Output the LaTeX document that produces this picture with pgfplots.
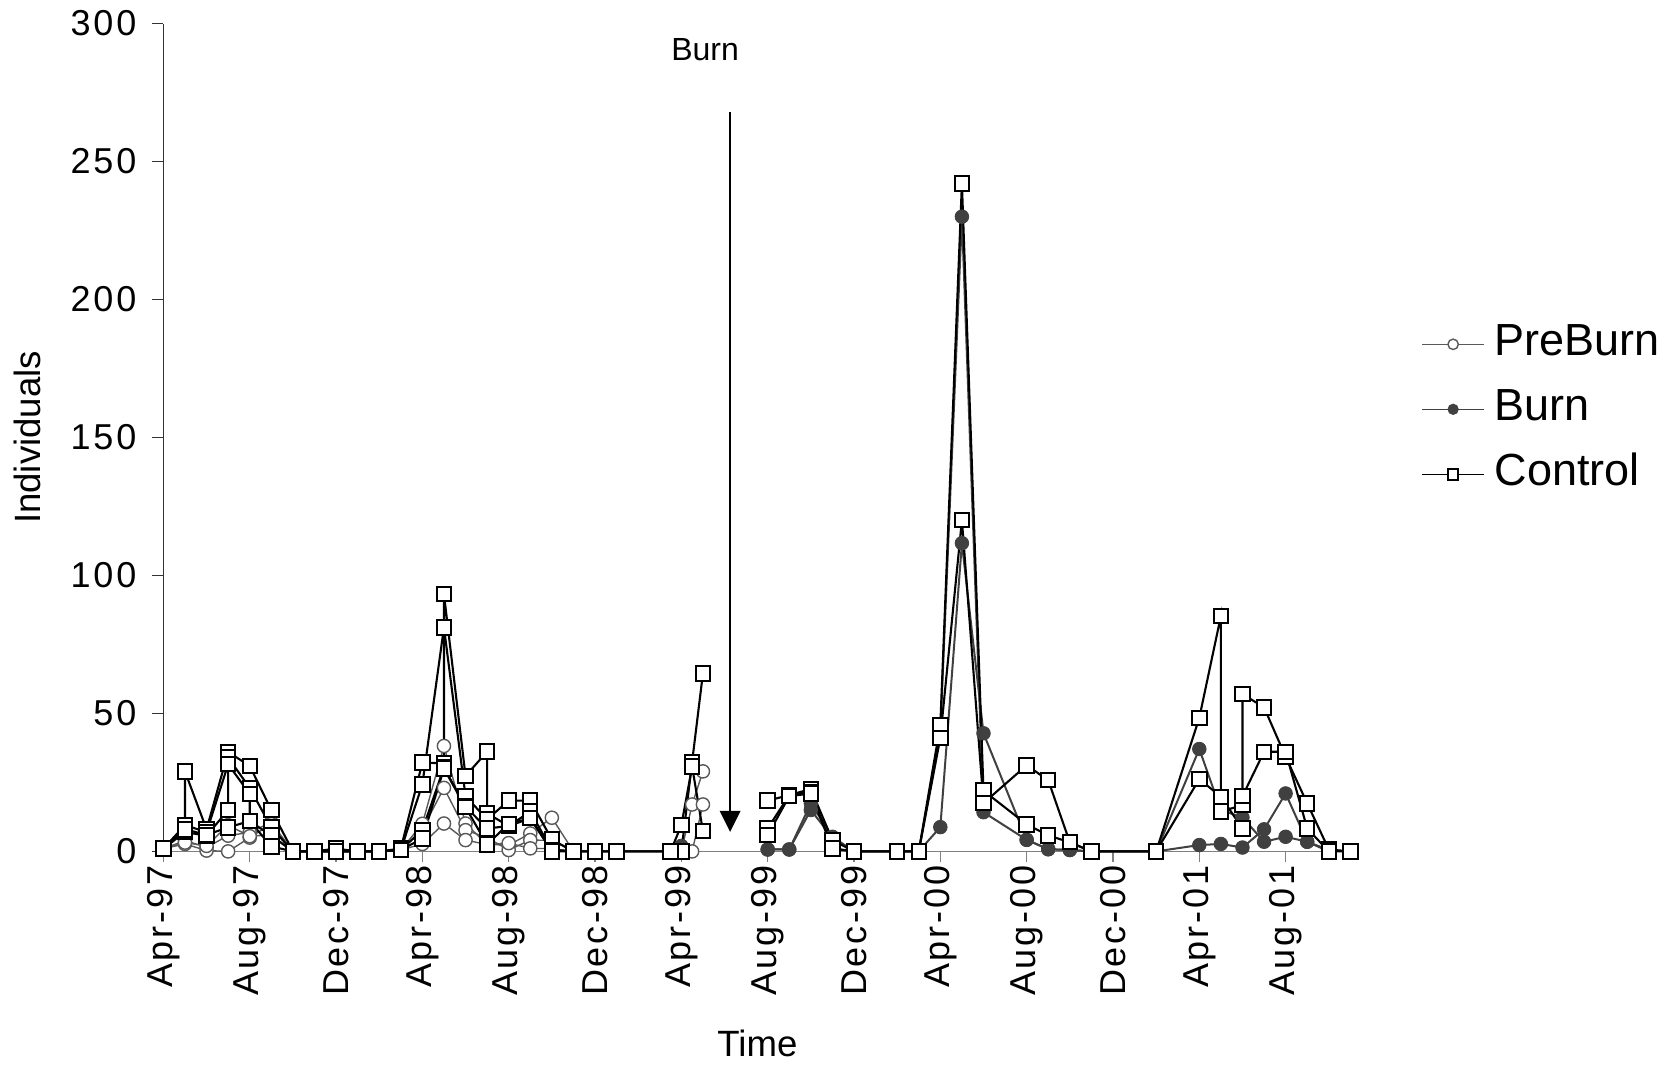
\documentclass[border=0pt]{standalone}
\usepackage{fontspec}
\setmainfont{Liberation Sans}
\newfontfamily\tickfont[LetterSpace=8]{Liberation Sans}
\usepackage{pgfplots}
\pgfplotsset{compat=1.18}
\usetikzlibrary{arrows.meta}

\definecolor{precol}{gray}{0.35}
\definecolor{burncol}{gray}{0.25}

\pgfplotsset{
  preburn/.style={color=precol, line width=0.7pt, mark=*, mark size=3.3pt,
    mark options={fill=white, draw=precol, line width=0.7pt}},
  burn/.style={color=burncol, line width=1pt, mark=*, mark size=3.4pt,
    mark options={fill=burncol, draw=burncol, line width=0.4pt}},
  control/.style={color=black, line width=1.05pt, mark=square*, mark size=3.6pt,
    mark options={fill=white, draw=black, line width=1pt}},
}

\begin{document}
\begin{tikzpicture}
\begin{axis}[
  scale only axis,
  width=597.8pt, height=413.95pt,
  xmin=0, xmax=55.4, ymin=0, ymax=300,
  clip=false,
  unbounded coords=jump,
  axis x line*=bottom, axis y line*=left,
  x axis line style={gray, line width=0.8pt},
  y axis line style={black!80, line width=0.6pt},
  xtick={0,4,...,52},
  xticklabels={Apr-97,Aug-97,Dec-97,Apr-98,Aug-98,Dec-98,Apr-99,Aug-99,Dec-99,Apr-00,Aug-00,Dec-00,Apr-01,Aug-01},
  ytick={0,50,...,300},
  tick align=outside,
  major tick length=5.5pt,
  xtick style={gray, line width=0.6pt},
  ytick style={black!80, line width=0.6pt},
  /pgf/number format/assume math mode=true,
  tick label style={font=\tickfont\fontsize{18}{18}\selectfont},
  xticklabel style={rotate=90, anchor=east},
  xticklabel shift=-2pt,
  yticklabel shift=4.5pt,
  xlabel={Time}, ylabel={Individuals},
  label style={font=\fontsize{18.3}{20}\selectfont},
  xlabel style={at={(axis description cs:0.4968,-0.2323)}, anchor=center},
  ylabel style={at={(axis description cs:-0.1134,0.5)}, anchor=center},
  legend style={at={(axis description cs:1.0519,0.534)}, anchor=west,
    draw=none, fill=none, inner sep=0pt,
    font=\fontsize{22.5}{27}\selectfont,
    nodes={inner sep=0pt, text height=16pt, text depth=4.5pt},
    row sep=12pt, column sep=5pt},
  legend cell align=left,
  legend image code/.code={%
    \draw[mark repeat=2, mark phase=2, #1, line width=0.7pt, mark size=2.6pt]
      plot coordinates {(0pt,0pt) (15.5pt,0pt) (31pt,0pt)};},
]
% PreBurn
\addplot[preburn] table[row sep=\\] {
x y \\ 0 1 \\ 1 3.9 \\ 2 1.5 \\ 3 5.7 \\ 4 6.9 \\ 5 10.5 \\ 6 0 \\ 7 0 \\ 8 0 \\ 9 0 \\ 10 0 \\
11 0.5 \\ 12 10 \\ 13 38.2 \\ 14 10.1 \\ 15 2.5 \\ 16 2.3 \\ 17 6.5 \\ 18 12.2 \\ 19 0 \\
20 0 \\ 21 0 \\ 23.5 0 \\ 24 0 \\ 24.5 17 \\ 25 29 \\
};
\addlegendentry{PreBurn}
\addplot[preburn, forget plot] table[row sep=\\] {
x y \\ 0 1 \\ 1 2.7 \\ 2 0.3 \\ 3 0 \\ 4 5 \\ 5 9.9 \\ 6 0 \\ 7 0 \\ 8 0 \\ 9 0 \\ 10 0 \\
11 0.5 \\ 12 8 \\ 13 23 \\ 14 7.7 \\ 15 5 \\ 16 0.5 \\ 17 4.1 \\ 18 4 \\ 19 0 \\
20 0 \\ 21 0 \\ 23.5 0 \\ 24 0 \\ 24.5 0 \\ 25 17 \\
};
\addplot[preburn, forget plot] table[row sep=\\] {
x y \\ 0 1 \\ 1 3.2 \\ 2 2 \\ 3 9.5 \\ 4 5.5 \\ 5 6 \\ 6 0 \\ 7 0 \\ 8 0 \\ 9 0 \\ 10 0 \\
11 0.5 \\ 12 2.7 \\ 13 10.1 \\ 14 4.1 \\ 15 2.5 \\ 16 3 \\ 17 1.1 \\ 18 1 \\ 19 0 \\
20 0 \\ 21 0 \\ 23.5 0 \\ 24 0 \\
};
% Burn
\addplot[burn] table[row sep=\\] {
x y \\ 23.5 0 \\ 24 2 \\ 24.5 nan \\
28 0.7 \\ 29 0.7 \\ 30 17.4 \\ 31 5.3 \\ 32 0 \\ 34 0 \\ 35 0 \\ 36 43 \\ 37 230 \\
38 14.2 \\ 40 4.2 \\ 41 0.8 \\ 42 0.5 \\ 43 0 \\ 46 0 \\ 48 37.1 \\ 49 15 \\ 50 12.3 \\
51 3.5 \\ 52 5.3 \\ 53 3.5 \\ 54 0 \\
};
\addlegendentry{Burn}
\addplot[burn, forget plot] table[row sep=\\] {
x y \\ 28 0.7 \\ 29 0.7 \\ 30 15 \\ 31 5 \\ 32 0 \\ 34 0 \\ 35 0 \\ 36 8.8 \\ 37 111.7 \\
38 42.8 \\ 40 4.2 \\ 41 0.8 \\ 42 0.5 \\ 43 0 \\ 46 0 \\ 48 2.3 \\ 49 2.7 \\ 50 1.4 \\
51 8 \\ 52 21 \\ 53 3.5 \\ 54 0.5 \\
};
% Control
\addplot[control] table[row sep=\\] {
x y \\ 0 1 \\ 1 9 \\ 1 29 \\ 2 8 \\ 3 36 \\ 4 31 \\ 5 15 \\ 6 0 \\ 7 0 \\ 8 1 \\ 9 0 \\ 10 0 \\
11 1 \\ 12 32.2 \\ 13 31.9 \\ 13 93.2 \\ 14 27.3 \\ 15 36.2 \\ 15 13.8 \\ 16 9.2 \\ 17 12 \\
18 0.5 \\ 19 0 \\ 20 0 \\ 21 0 \\ 23.5 0 \\ 24 0 \\ 24.5 32.5 \\ 25 64.5 \\ 26 nan \\
28 18.4 \\ 29 20.4 \\ 30 22.6 \\ 31 4.1 \\ 32 0 \\ 34 0 \\ 35 0 \\ 36 45.8 \\ 37 242 \\
38 22 \\ 40 9.8 \\ 41 5.8 \\ 42 3.3 \\ 43 0 \\ 46 0 \\ 48 48.4 \\ 49 85.3 \\ 49 14.4 \\
50 16.8 \\ 50 57 \\ 51 52.2 \\ 52 34.3 \\ 53 17.4 \\ 54 0.7 \\ 55 0 \\
};
\addlegendentry{Control}
\addplot[control, forget plot] table[row sep=\\] {
x y \\ 0 1 \\ 1 7 \\ 2 5.7 \\ 3 15 \\ 3 34 \\ 4 23 \\ 5 8.7 \\ 6 0 \\ 7 0 \\ 8 0 \\ 9 0 \\ 10 0 \\
11 0.5 \\ 12 24.3 \\ 13 81.2 \\ 14 20 \\ 15 11.6 \\ 16 18.4 \\ 17 18.4 \\ 18 4.3 \\ 19 0 \\
20 0 \\ 21 0 \\ 23.5 0 \\ 24 9.5 \\ 24.5 30.7 \\ 25 7.4 \\ 26 nan \\
28 8.3 \\ 29 20.4 \\ 30 21.6 \\ 31 1.1 \\ 32 0 \\ 34 0 \\ 35 0 \\ 36 41.2 \\ 37 120 \\
38 17.5 \\ 40 31.2 \\ 41 25.8 \\ 42 3.3 \\ 43 0 \\ 46 0 \\ 48 26.2 \\ 49 19.8 \\ 50 8.3 \\
50 20 \\ 51 36.1 \\ 52 36.1 \\ 53 8.3 \\ 54 0 \\ 55 0 \\
};
\addplot[control, forget plot] table[row sep=\\] {
x y \\ 0 1 \\ 1 9.5 \\ 2 7 \\ 3 31.6 \\ 4 20.8 \\ 4 11 \\ 5 5.7 \\ 6 0 \\ 7 0 \\ 8 0 \\
9 0 \\ 10 0 \\ 11 0.5 \\ 12 7.7 \\ 13 30.4 \\ 14 16.2 \\ 15 8.3 \\ 16 9.2 \\ 17 14.4 \\
18 0.5 \\ 19 0 \\ 20 nan \\ 28 5.9 \\ 29 20 \\ 30 21 \\ 31 1 \\ 32 0 \\
};
\addplot[control, forget plot] table[row sep=\\] {
x y \\ 0 1 \\ 1 8 \\ 2 6 \\ 3 8.7 \\ 4 11 \\ 5 1.8 \\ 6 0 \\ 7 0 \\ 8 0 \\ 9 0 \\ 10 0 \\
11 0.5 \\ 12 4.7 \\ 13 30 \\ 14 16 \\ 15 2.5 \\ 16 10 \\ 17 12 \\ 18 0 \\ 19 0 \\
};
% burn event
\node[font=\fontsize{16}{17}\selectfont] at (axis cs:25.1,290.7) {Burn};
\draw[line width=0.75pt, -{Triangle[width=10.4pt,length=10.5pt]}]
  (axis cs:26.26,267.9) -- (axis cs:26.26,7.1);
\end{axis}
\pgfresetboundingbox
\path[use as bounding box] (-81.7pt,-107.3pt) rectangle (755.8pt,425.7pt);
\end{tikzpicture}
\end{document}
